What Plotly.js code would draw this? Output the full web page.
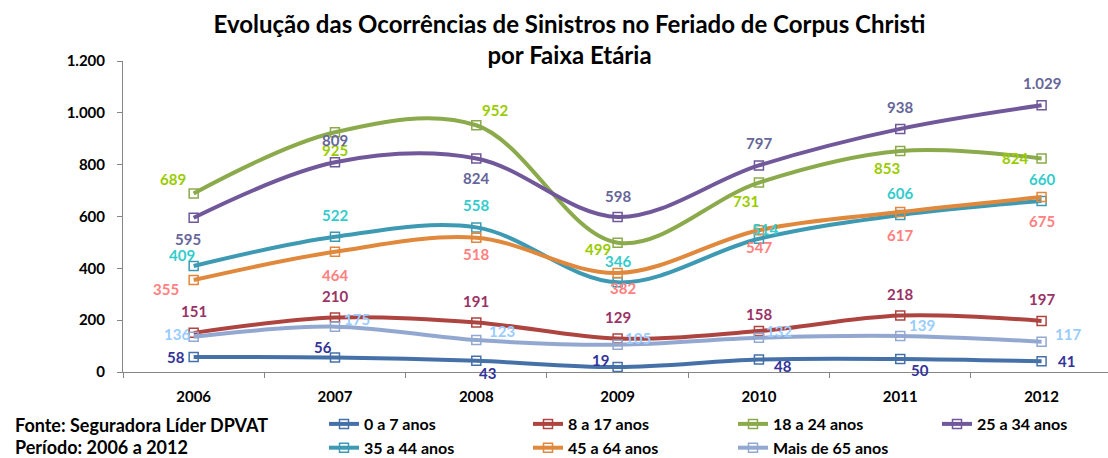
<!DOCTYPE html>
<html>
<head>
<meta charset="utf-8">
<script src="https://cdn.plot.ly/plotly-3.0.1.min.js"></script>
<style>html,body{margin:0;padding:0;background:#fff;}#chart{width:1108px;height:458px;}</style>
</head>
<body>
<div id="chart"></div>
<script>
// ---- data ----
const years = ['2006','2007','2008','2009','2010','2011','2012'];
const seriesNames = ['0 a 7 anos','8 a 17 anos','18 a 24 anos','25 a 34 anos','35 a 44 anos','45 a 64 anos','Mais de 65 anos'];
const age0to7   = [58, 56, 43, 19, 48, 50, 41];
const age8to17  = [151, 210, 191, 129, 158, 218, 197];
const age18to24 = [689, 925, 952, 499, 731, 853, 824];
const age25to34 = [595, 809, 824, 598, 797, 938, 1029];
const age35to44 = [409, 522, 558, 346, 514, 606, 660];
const age45to64 = [355, 464, 518, 382, 547, 617, 675];
const age65plus = [136, 175, 123, 105, 132, 139, 117];
const yTicks = [0, 200, 400, 600, 800, 1000, 1200];

// ---- styles ----
const seriesValues = [age0to7, age8to17, age18to24, age25to34, age35to44, age45to64, age65plus];
const lineColors  = ['#4571A8','#AE4440','#8BAA4B','#70589A','#3E9AB3','#E0883C','#92A8D1'];
const labelColors = ['#333399','#993366','#99CC00','#666699','#33CCCC','#FF8080','#99CCFF'];
const legendIds   = ['legend','legend2','legend3','legend4','legend','legend2','legend3'];
// label offsets in px [dx, dy] (dy positive = down)
const labelOffsets = [
  [[-18,0],[-12,-10],[11,12],[-17,-7],[24,6],[20,11],[25,0]],
  [[0,-22],[0,-22],[0,-22],[0,-22],[0,-17],[0,-22],[0,-22]],
  [[-21,-14],[0,18],[19,-15],[-20,6],[-13,18],[-13,17],[-27,0]],
  [[-6,21],[0,-22],[0,20],[0,-21],[0,-22],[0,-22],[0,-22]],
  [[-12,-11],[0,-22],[0,-22],[0,-21],[6,-10],[0,-22],[0,-22]],
  [[-28,9],[0,23],[0,16],[5,15],[0,17],[0,23],[0,24]],
  [[-17,-3],[22,-8],[26,-9],[20,-7],[20,-7],[22,-11],[26,-8]]
];

const FONT = 'Lato, "Open Sans", sans-serif';
function fmt(v){ return v.toLocaleString('de-DE'); }

const traces = seriesValues.map((vals, s) => ({
  type: 'scatter', mode: 'lines+markers',
  x: years, y: vals, name: seriesNames[s],
  legend: legendIds[s],
  line: {color: lineColors[s], width: 4, shape: 'spline', smoothing: 1},
  marker: {symbol: 'square-open', size: 9, color: lineColors[s], line: {width: 1.5, color: lineColors[s]}},
  hoverinfo: 'x+y+name'
}));

const annotations = [];
seriesValues.forEach((vals, s) => {
  vals.forEach((v, i) => {
    annotations.push({
      x: i, y: v, xref: 'x', yref: 'y', text: fmt(v), showarrow: false,
      xanchor: 'center', yanchor: 'middle',
      xshift: labelOffsets[s][i][0], yshift: -labelOffsets[s][i][1],
      font: {family: FONT, size: 15, color: labelColors[s], weight: 'bold'}
    });
  });
});
const L = 123, PW = 985, T = 61, PH = 311;
function px2x(p){ return (p - L) / PW; }
function py2y(p){ return (T + PH - p) / PH; }

annotations.push({
  xref: 'paper', yref: 'paper', x: px2x(13), y: py2y(425), xanchor: 'left', yanchor: 'middle',
  text: 'Fonte: Seguradora Líder DPVAT', showarrow: false,
  font: {family: FONT, size: 18, color: '#000', weight: 'bold'}
});
annotations.push({
  xref: 'paper', yref: 'paper', x: px2x(13), y: py2y(447), xanchor: 'left', yanchor: 'middle',
  text: 'Período: 2006 a 2012', showarrow: false,
  font: {family: FONT, size: 18, color: '#000', weight: 'bold'}
});

const legendBase = {orientation: 'v', yanchor: 'top', y: py2y(407), xanchor: 'left',
  bgcolor: 'rgba(0,0,0,0)', borderwidth: 0, tracegroupgap: 0,
  font: {family: FONT, size: 16, color: '#000', weight: 'bold'}};

const layout = {
  width: 1108, height: 458,
  margin: {l: L, r: 0, t: T, b: 458 - T - PH, autoexpand: false},
  paper_bgcolor: '#fff', plot_bgcolor: '#fff',
  separators: ',.',
  font: {family: FONT, color: '#000'},
  title: {
    text: 'Evolução das Ocorrências de Sinistros no Feriado de Corpus Christi<br>por Faixa Etária',
    xref: 'container', x: 0.514, xanchor: 'center', yref: 'container', y: 0.928, yanchor: 'top',
    font: {family: FONT, size: 24, color: '#000', weight: 'bold'}
  },
  xaxis: {
    type: 'category', range: [-0.5, 6.47], showgrid: false, zeroline: false,
    showline: true, linecolor: '#868686', linewidth: 1,
    ticks: 'outside', ticklen: 5, tickcolor: '#868686', tickson: 'boundaries',
    tickfont: {family: FONT, size: 15, color: '#000', weight: 'bold'}, ticklabelstandoff: 11
  },
  yaxis: {
    range: [0, 1200], tickvals: yTicks, tickformat: ',d', showgrid: false, zeroline: false,
    showline: true, linecolor: '#868686', linewidth: 1,
    ticks: 'outside', ticklen: 5, tickcolor: '#868686',
    tickfont: {family: FONT, size: 15, color: '#000', weight: 'bold'}, ticklabelstandoff: 9
  },
  showlegend: true,
  legend:  Object.assign({}, legendBase, {x: px2x(324)}),
  legend2: Object.assign({}, legendBase, {x: px2x(528)}),
  legend3: Object.assign({}, legendBase, {x: px2x(733)}),
  legend4: Object.assign({}, legendBase, {x: px2x(937)}),
  annotations: annotations
};

Plotly.newPlot('chart', traces, layout, {displayModeBar: false, staticPlot: true});
</script>
</body>
</html>
